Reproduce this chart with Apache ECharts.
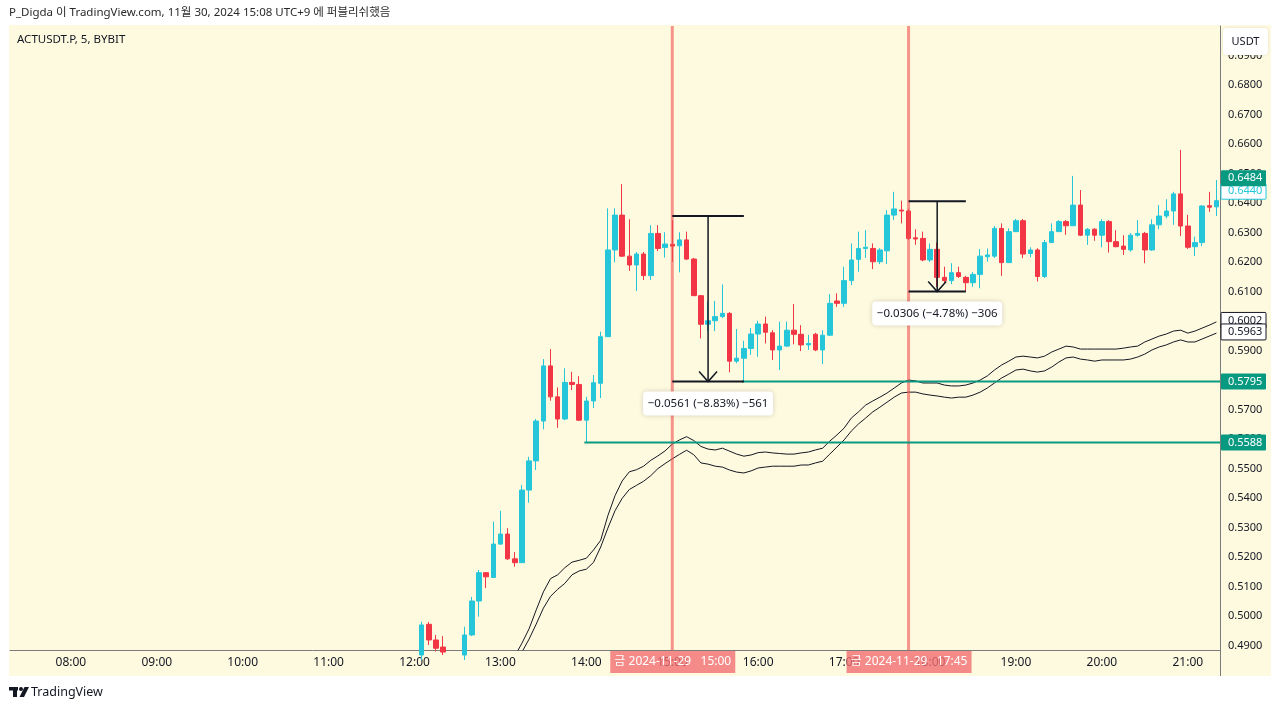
<!DOCTYPE html>
<html><head><meta charset="utf-8">
<script src="https://cdn.jsdelivr.net/npm/echarts@6/dist/echarts.min.js"></script>
<style>html,body{margin:0;padding:0;background:#fff}#c{width:1280px;height:709px}</style>
</head><body><div id="c"></div>
<script>
// ---- categories (5-minute slots) ----
const times = [];
for (let m = 7 * 60 + 20; m <= 21 * 60 + 20; m += 5) {
  times.push(String(Math.floor(m / 60)).padStart(2, '0') + ':' + String(m % 60).padStart(2, '0'));
}
const priceTicks = [0.49,0.50,0.51,0.52,0.53,0.54,0.55,0.56,0.57,0.58,0.59,0.60,0.61,0.62,0.63,0.64,0.65,0.66,0.67,0.68,0.69];

// ---- candles, from 12:05 (null = below view) ----
const candleStart = '12:05';
const opens = [0.4868,0.4972,0.4919,0.4895,null,null,0.4868,0.4936,0.5051,0.5147,0.5131,0.5244,0.5278,0.5194,0.5181,0.5427,0.5526,0.5661,0.5848,0.5743,0.5668,0.5792,0.5785,0.5664,0.5729,0.5789,0.5947,0.6241,0.6359,0.6220,0.6190,0.6227,0.6154,0.6297,0.6249,0.6260,0.6255,0.6275,0.6210,0.6086,0.5989,0.6001,0.6015,0.6026,0.5864,0.5874,0.5907,0.5956,0.5990,0.5960,0.5902,0.5915,0.5969,0.5955,0.5919,0.5955,0.5902,0.5952,0.6068,0.6060,0.6137,0.6209,0.6246,0.6246,0.6201,0.6238,0.6359,0.6376,0.6373,0.6282,0.6280,0.6207,0.6243,0.6148,0.6137,0.6164,0.6148,0.6130,0.6158,0.6218,0.6220,0.6314,0.6198,0.6303,0.6340,0.6229,0.6241,0.6151,0.6266,0.6303,0.6337,0.6323,0.6393,0.6291,0.6311,0.6291,0.6337,0.6269,0.6254,0.6241,0.6291,0.6297,0.6241,0.6326,0.6356,0.6373,0.6431,0.6322,0.6252,0.6266,0.6391,0.6387];
const highs = [0.4981,0.4980,0.4936,0.4932,null,null,0.4964,0.5065,0.5156,0.5149,0.5320,0.5357,0.5298,0.5217,0.5444,0.5540,0.5668,0.5871,0.5905,0.5775,0.5840,0.5828,0.5813,0.5743,0.5817,0.5964,0.6382,0.6382,0.6464,0.6345,0.6234,0.6234,0.6325,0.6325,0.6301,0.6342,0.6301,0.6303,0.6214,0.6088,0.6066,0.6068,0.6124,0.6030,0.5973,0.5933,0.5976,0.6001,0.6015,0.5969,0.5998,0.5998,0.6058,0.5986,0.5953,0.5960,0.5969,0.6091,0.6094,0.6184,0.6263,0.6303,0.6308,0.6263,0.6247,0.6376,0.6438,0.6408,0.6380,0.6311,0.6303,0.6263,0.6266,0.6184,0.6196,0.6184,0.6153,0.6166,0.6244,0.6246,0.6322,0.6331,0.6314,0.6346,0.6346,0.6250,0.6247,0.6275,0.6331,0.6342,0.6342,0.6492,0.6444,0.6315,0.6315,0.6345,0.6342,0.6308,0.6291,0.6298,0.6342,0.6302,0.6345,0.6393,0.6413,0.6438,0.6580,0.6360,0.6286,0.6393,0.6438,0.6478];
const lows = [0.4851,0.4902,0.4880,0.4868,null,null,0.4851,0.4932,0.4998,0.5095,0.5129,0.5241,0.5190,0.5167,0.5180,0.5384,0.5495,0.5633,0.5730,0.5638,0.5664,0.5766,0.5661,0.5588,0.5705,0.5739,0.5946,0.6199,0.6217,0.6170,0.6102,0.6139,0.6139,0.6237,0.6215,0.6201,0.6165,0.6207,0.6085,0.5941,0.5966,0.5966,0.6010,0.5826,0.5857,0.5795,0.5885,0.5879,0.5924,0.5868,0.5834,0.5912,0.5921,0.5898,0.5902,0.5898,0.5854,0.5949,0.6048,0.6048,0.6122,0.6167,0.6214,0.6176,0.6193,0.6193,0.6342,0.6331,0.6275,0.6258,0.6203,0.6200,0.6116,0.6128,0.6125,0.6146,0.6100,0.6116,0.6111,0.6201,0.6214,0.6153,0.6197,0.6302,0.6213,0.6216,0.6134,0.6146,0.6264,0.6302,0.6292,0.6322,0.6288,0.6258,0.6272,0.6250,0.6232,0.6250,0.6224,0.6235,0.6286,0.6196,0.6238,0.6311,0.6348,0.6326,0.6288,0.6244,0.6220,0.6254,0.6370,0.6356];
const closes = [0.4970,0.4919,0.4891,0.4878,null,null,0.4936,0.5051,0.5147,0.5133,0.5244,0.5278,0.5194,0.5181,0.5427,0.5526,0.5661,0.5848,0.5743,0.5668,0.5792,0.5785,0.5664,0.5729,0.5791,0.5947,0.6241,0.6359,0.6220,0.6190,0.6227,0.6154,0.6297,0.6246,0.6261,0.6254,0.6275,0.6210,0.6086,0.5989,0.6001,0.6015,0.6026,0.5864,0.5874,0.5907,0.5956,0.5990,0.5962,0.5902,0.5915,0.5969,0.5955,0.5919,0.5924,0.5902,0.5952,0.6060,0.6060,0.6137,0.6207,0.6246,0.6250,0.6201,0.6241,0.6359,0.6380,0.6373,0.6280,0.6278,0.6207,0.6243,0.6148,0.6137,0.6164,0.6151,0.6130,0.6158,0.6220,0.6224,0.6314,0.6198,0.6303,0.6340,0.6227,0.6241,0.6151,0.6266,0.6303,0.6337,0.6323,0.6393,0.6291,0.6311,0.6291,0.6337,0.6269,0.6252,0.6243,0.6291,0.6297,0.6241,0.6326,0.6356,0.6373,0.6431,0.6322,0.6250,0.6266,0.6390,0.6386,0.6408];

// ---- two black band lines, from 13:10 ----
const bandStart = '13:10';
const upperBand = [0.4864,0.4908,0.4957,0.5021,0.5082,0.5127,0.5140,0.5164,0.5183,0.5189,
 0.5196,0.5224,0.5257,0.5340,0.5408,0.5458,0.5489,0.5496,0.5508,0.5528,0.5543,0.5560,
 0.5583,0.5597,0.5608,0.5595,0.5575,0.5566,0.5563,0.5569,0.5559,0.5549,0.5542,0.5546,
 0.5554,0.5556,0.5553,0.5551,0.5549,0.5549,0.5553,0.5556,0.5563,0.5569,0.5593,0.5614,
 0.5637,0.5671,0.5692,0.5715,0.5729,0.5742,0.5756,0.5773,0.5790,0.5800,0.5797,0.5790,
 0.5790,0.5790,0.5783,0.5780,0.5780,0.5783,0.5790,0.5800,0.5814,0.5834,0.5851,0.5864,
 0.5878,0.5881,0.5878,0.5875,0.5881,0.5895,0.5905,0.5915,0.5912,0.5905,0.5905,0.5905,
 0.5905,0.5905,0.5905,0.5908,0.5912,0.5915,0.5929,0.5939,0.5949,0.5956,0.5966,0.5969,
 0.5959,0.5966,0.5976,0.5986,0.5997];
const lowerBand = [0.4834,0.4878,0.4922,0.4973,0.5027,0.5067,0.5091,0.5111,0.5140,0.5153,
 0.5159,0.5182,0.5234,0.5298,0.5357,0.5399,0.5429,0.5443,0.5457,0.5476,0.5500,0.5517,
 0.5533,0.5548,0.5562,0.5547,0.5519,0.5515,0.5508,0.5505,0.5495,0.5488,0.5485,0.5492,
 0.5502,0.5505,0.5508,0.5508,0.5508,0.5508,0.5512,0.5512,0.5519,0.5525,0.5549,0.5573,
 0.5597,0.5627,0.5651,0.5671,0.5692,0.5708,0.5725,0.5742,0.5756,0.5759,0.5759,0.5753,
 0.5749,0.5746,0.5742,0.5739,0.5742,0.5742,0.5749,0.5759,0.5773,0.5790,0.5807,0.5820,
 0.5834,0.5837,0.5831,0.5827,0.5831,0.5844,0.5861,0.5875,0.5878,0.5871,0.5868,0.5864,
 0.5868,0.5868,0.5868,0.5868,0.5871,0.5878,0.5888,0.5902,0.5912,0.5919,0.5929,0.5936,
 0.5929,0.5929,0.5939,0.5949,0.5959];

// ---- annotations ----
const vLines = ['15:00', '17:45'];
const vLineLabels = ['금 2024-11-29   15:00', '금 2024-11-29   17:45'];
const hLines = [{from: '15:50', price: 0.5795}, {from: '14:00', price: 0.5588}];
const measures = [
  {from: '15:00', mid: '15:25', to: '15:50', top: 0.6356, bottom: 0.5795, text: '\u22120.0561 (\u22128.83%) \u2212561'},
  {from: '17:45', mid: '18:05', to: '18:25', top: 0.6406, bottom: 0.6100, text: '\u22120.0306 (\u22124.78%) \u2212306'}
];
const lastPrice = 0.6484, otherPrice = 0.6440, upperLast = 0.6002, lowerLast = 0.5963;

const UP = '#26C6DA', DOWN = '#F23645', CREAM = '#FEFAE0', INK = '#131722';
const FF = "'Noto Sans','Noto Sans CJK KR',sans-serif";

const c0 = times.indexOf(candleStart);
const candleData = times.map((t, i) => {
  const k = i - c0;
  if (k < 0 || k >= opens.length || opens[k] == null) return '-';
  return [opens[k], closes[k], lows[k], highs[k]];
});
const b0 = times.indexOf(bandStart);
const bandData = arr => times.map((t, i) => { const k = i - b0; return (k >= 0 && k < arr.length) ? arr[k] : '-'; });

const chart = echarts.init(document.getElementById('c'));
chart.setOption({
  animation: false,
  backgroundColor: '#ffffff',
  grid: {left: 10, right: 60, top: 26, bottom: 59},
  xAxis: {
    type: 'category', data: times, boundaryGap: true,
    axisLine: {show: true, lineStyle: {color: '#7b7b7b', width: 1}},
    axisTick: {show: false}, splitLine: {show: false},
    axisLabel: {interval: (i, v) => v.endsWith(':00'), color: INK, fontSize: 12, fontFamily: FF, margin: 7}
  },
  yAxis: {
    type: 'value', position: 'right', min: 0.4885, max: 0.70,
    axisLine: {show: true, lineStyle: {color: '#7b7b7b', width: 1}},
    axisTick: {show: false}, splitLine: {show: false},
    axisLabel: {customValues: priceTicks, formatter: v => v.toFixed(4), color: INK, fontSize: 11, fontFamily: FF, margin: 8}
  },
  series: [
    {type: 'candlestick', data: candleData, barWidth: 5, clip: true,
     itemStyle: {color: UP, color0: DOWN, borderColor: UP, borderColor0: DOWN, borderWidth: 1}},
    {type: 'line', data: bandData(upperBand), symbol: 'none', clip: true, lineStyle: {color: INK, width: 1}, z: 3},
    {type: 'line', data: bandData(lowerBand), symbol: 'none', clip: true, lineStyle: {color: INK, width: 1}, z: 3}
  ]
});

const P = (t, v) => chart.convertToPixel({xAxisIndex: 0, yAxisIndex: 0}, [times.indexOf(t), v]);
const Y = v => chart.convertToPixel({yAxisIndex: 0}, v);
const gTop = 26, gBot = 650, gRight = 1220;
const els = [];
const txt = (text, x, y, opt, z) => ({
  type: 'text', z: z || 30, silent: true,
  style: Object.assign({text, x, y, fill: INK, font: '12px ' + FF, align: 'left', textAlign: 'left', verticalAlign: 'middle', textVerticalAlign: 'middle'}, opt || {})
});

els.push({type: 'rect', z: -100, silent: true, shape: {x: 9, y: 25, width: 1262, height: 651}, style: {fill: CREAM}});
els.push(txt('P_Digda 이 TradingView.com, 11월 30, 2024 15:08 UTC+9 에 퍼블리쉬했음', 9, 13, {fill: '#2a2a2a', font: '11.5px ' + FF}));
els.push(txt('ACTUSDT.P, 5, BYBIT', 17, 40, {font: '11.5px ' + FF}));
els.push({type: 'line', z: 30, silent: true, shape: {x1: gRight + 0.5, y1: gBot, x2: gRight + 0.5, y2: 676}, style: {stroke: '#7b7b7b', lineWidth: 1}});

// vertical red lines + time boxes
vLines.forEach((t, i) => {
  const x = P(t, 0.6)[0];
  els.push({type: 'line', z: 20, silent: true, shape: {x1: x, y1: gTop, x2: x, y2: gBot}, style: {stroke: 'rgba(240,80,80,0.6)', lineWidth: 3}});
  els.push({type: 'rect', z: 30, silent: true, shape: {x: x - 62, y: 651, width: 125, height: 22}, style: {fill: 'rgba(243,111,115,0.8)'}});
  els.push(txt(vLineLabels[i], x + 0.5, 662, {fill: '#ffffff', align: 'center', textAlign: 'center'}, 31));
});

// green horizontal lines
hLines.forEach(h => {
  const [x, y] = P(h.from, h.price);
  els.push({type: 'line', z: 20, silent: true, shape: {x1: x - 2, y1: y, x2: gRight, y2: y}, style: {stroke: '#089981', lineWidth: 2}});
});

// measures
measures.forEach(m => {
  const [x1, yt] = P(m.from, m.top);
  const [x2, yb] = P(m.to, m.bottom);
  const xm = P(m.mid, m.top)[0];
  const s = {stroke: INK, lineWidth: 2};
  els.push({type: 'line', z: 25, silent: true, shape: {x1: x1, y1: yt, x2: x2, y2: yt}, style: s});
  els.push({type: 'line', z: 25, silent: true, shape: {x1: x1, y1: yb, x2: x2, y2: yb}, style: s});
  els.push({type: 'line', z: 25, silent: true, shape: {x1: xm, y1: yt, x2: xm, y2: yb}, style: {stroke: INK, lineWidth: 1.5}});
  els.push({type: 'polyline', z: 25, silent: true, shape: {points: [[xm - 9, yb - 10], [xm, yb], [xm + 9, yb - 10]]}, style: {stroke: INK, lineWidth: 1.5, fill: null}});
  els.push({type: 'rect', z: 26, silent: true, shape: {x: xm - 65, y: yb + 10, width: 130, height: 24, r: 4}, style: {fill: '#ffffff', shadowBlur: 5, shadowColor: 'rgba(0,0,0,0.18)'}});
  els.push(txt(m.text, xm, yb + 22, {align: 'center', textAlign: 'center', font: '11.5px ' + FF}, 27));
});

// right-axis price labels
const axisBox = (v, fill, stroke, color) => {
  const y = Y(v);
  els.push({type: 'rect', z: 31, silent: true, shape: {x: 1221, y: y - 8, width: 45, height: 16, r: 1}, style: {fill, stroke: stroke || null, lineWidth: 1}});
  els.push(txt(v.toFixed(4), 1228, y, {fill: color, font: '11px ' + FF}, 32));
};
axisBox(upperLast, '#ffffff', INK, INK);
axisBox(lowerLast, '#ffffff', INK, INK);
hLines.forEach(h => axisBox(h.price, '#089981', null, '#ffffff'));
axisBox(otherPrice, '#ffffff', UP, UP);
axisBox(lastPrice, '#089981', null, '#ffffff');

// USDT box
els.push({type: 'rect', z: 33, silent: true, shape: {x: 1223, y: 28, width: 45, height: 27, r: 4}, style: {fill: '#ffffff', shadowBlur: 3, shadowColor: 'rgba(0,0,0,0.12)'}});
els.push(txt('USDT', 1245.5, 41.5, {align: 'center', textAlign: 'center', font: '11px ' + FF}, 34));

// footer logo
els.push({type: 'rect', z: 30, silent: true, shape: {x: 9, y: 687, width: 9, height: 3.5}, style: {fill: INK}});
els.push({type: 'rect', z: 30, silent: true, shape: {x: 13, y: 687, width: 4, height: 10}, style: {fill: INK}});
els.push({type: 'circle', z: 30, silent: true, shape: {cx: 21, cy: 689, r: 2}, style: {fill: INK}});
els.push({type: 'polygon', z: 30, silent: true, shape: {points: [[24.5, 687], [29, 687], [24, 697], [19.5, 697]]}, style: {fill: INK}});
els.push(txt('TradingView', 31, 692, {font: '12.5px ' + FF}));

chart.setOption({graphic: {elements: els}});
</script></body></html>
